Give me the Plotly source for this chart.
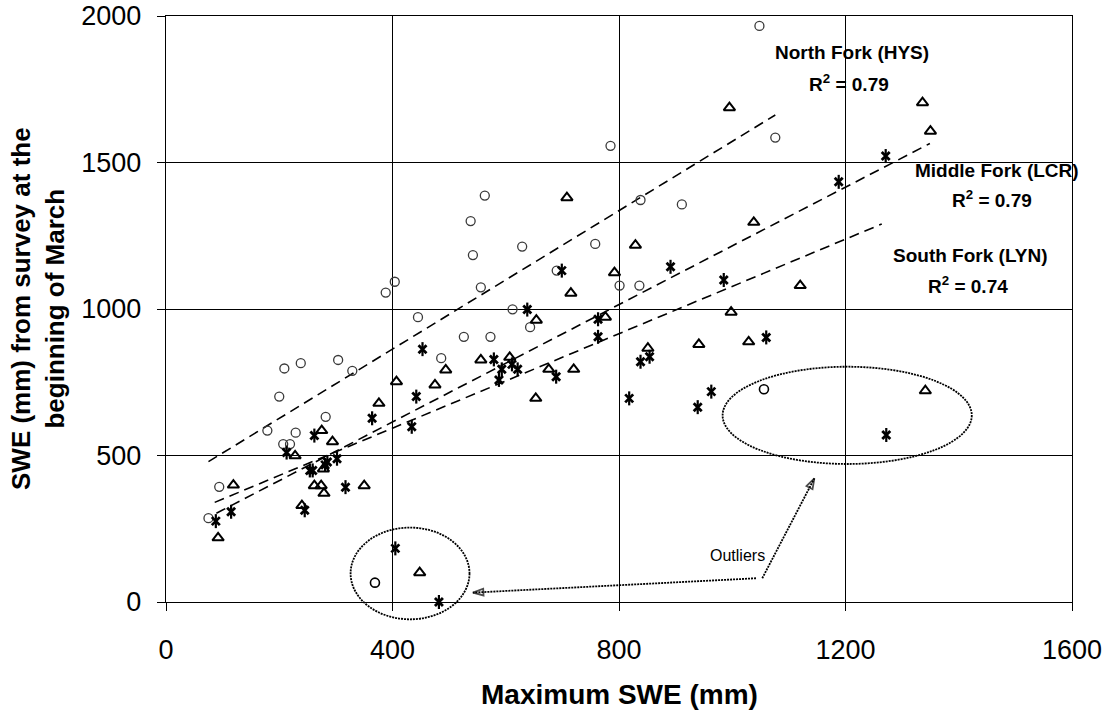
import plotly.graph_objects as go

# ---------------- data ----------------
north_x = [75, 94, 179, 200, 207, 219, 209, 229, 238, 282, 304, 329, 388, 404, 445, 486, 526,
           538, 542, 556, 563, 573, 612, 629, 643, 690, 758, 785, 801, 836, 838, 911, 1048, 1076]
north_y = [286, 393, 585, 701, 539, 539, 797, 578, 815, 632, 826, 789, 1056, 1093, 972, 832, 905,
           1300, 1184, 1074, 1387, 905, 999, 1213, 938, 1131, 1222, 1557, 1080, 1080, 1372, 1357, 1966, 1585]
north_out_x = [369, 1056]
north_out_y = [66, 726]

middle_x = [92, 119, 228, 240, 262, 274, 279, 275, 278, 294, 350, 376, 407, 475, 494, 556, 607, 653,
            654, 676, 708, 715, 720, 776, 792, 829, 851, 941, 995, 998, 1029, 1038, 1120, 1336, 1350]
middle_y = [219, 399, 499, 329, 397, 397, 371, 585, 454, 547, 397, 678, 752, 741, 792, 826, 835, 695,
            962, 794, 1380, 1054, 794, 972, 1124, 1218, 866, 879, 1687, 989, 888, 1296, 1080, 1704, 1607]
middle_out_x = [448, 1341]
middle_out_y = [100, 721]

south_x = [88, 115, 213, 245, 254, 259, 262, 281, 285, 302, 317, 364, 434, 442, 453, 579, 588, 593,
           611, 621, 638, 689, 699, 763, 763, 818, 838, 854, 891, 939, 963, 985, 1060, 1188, 1271]
south_y = [276, 308, 510, 313, 449, 449, 568, 468, 478, 489, 392, 627, 598, 701, 863, 828, 758, 794,
           811, 794, 998, 769, 1131, 965, 905, 695, 820, 837, 1144, 665, 718, 1099, 903, 1434, 1522]
south_out_x = [405, 482, 1272]
south_out_y = [183, 0, 570]

# trend line end points
north_trend_x = [75, 1076]
north_trend_y = [479, 1662]
middle_trend_x = [89, 1349]
middle_trend_y = [303, 1565]
south_trend_x = [86, 1264]
south_trend_y = [340, 1290]

# outlier ellipses [x0, x1, y0, y1]
ellipse_low = [326, 536, -59, 254]
ellipse_high = [983, 1423, 471, 803]

# arrows (start -> end)
arrow1_x = [1042, 542]
arrow1_y = [81, 32]
arrow2_x = [1053, 1145]
arrow2_y = [81, 422]

X_RANGE = [0, 1600]
Y_RANGE = [0, 2000]
x_ticks = [0, 400, 800, 1200, 1600]
y_ticks = [0, 500, 1000, 1500, 2000]

FONT = "Liberation Sans, Arial, sans-serif"

fig = go.Figure()

dash_pat = "10px,6px"
for tx, ty in [(north_trend_x, north_trend_y), (middle_trend_x, middle_trend_y), (south_trend_x, south_trend_y)]:
    fig.add_trace(go.Scatter(x=tx, y=ty, mode="lines", line=dict(color="black", width=1.6, dash=dash_pat),
                             hoverinfo="skip", showlegend=False))

# North Fork circles
fig.add_trace(go.Scatter(x=north_x, y=north_y, mode="markers", name="North Fork (HYS)",
                         marker=dict(symbol="circle-open", size=9, color="#3a3a3a", line=dict(width=1.3)),
                         cliponaxis=False, showlegend=False))
fig.add_trace(go.Scatter(x=north_out_x, y=north_out_y, mode="markers",
                         marker=dict(symbol="circle-open", size=9, color="black", line=dict(width=1.6)),
                         cliponaxis=False, showlegend=False))
# Middle Fork triangles
fig.add_trace(go.Scatter(x=middle_x + middle_out_x, y=middle_y + middle_out_y, mode="markers",
                         name="Middle Fork (LCR)",
                         marker=dict(symbol="triangle-up-open", size=10, color="black", line=dict(width=2)),
                         cliponaxis=False, showlegend=False))
# South Fork asterisks (x + vertical bar)
for sym, sz, lw in [("x-thin-open", 8, 2.8), ("line-ns-open", 10, 2.2)]:
    fig.add_trace(go.Scatter(x=south_x + south_out_x, y=south_y + south_out_y, mode="markers",
                             name="South Fork (LYN)",
                             marker=dict(symbol=sym, size=sz, color="black", line=dict(width=lw, color="black")),
                             cliponaxis=False, showlegend=False))

# dotted arrows
for ax_, ay_ in [(arrow1_x, arrow1_y), (arrow2_x, arrow2_y)]:
    fig.add_trace(go.Scatter(x=ax_, y=ay_, mode="lines+markers",
                             line=dict(color="black", width=1.8, dash="2px,1px"),
                             marker=dict(symbol=["circle", "arrow-open"], size=[0, 11], angleref="previous",
                                         color="black", line=dict(width=1.8, color="black")),
                             cliponaxis=False, hoverinfo="skip", showlegend=False))


def dom(v, r):
    return (v - r[0]) / (r[1] - r[0])


for e in (ellipse_low, ellipse_high):
    fig.add_shape(type="circle", xref="x domain", yref="y domain",
                  x0=dom(e[0], X_RANGE), x1=dom(e[1], X_RANGE),
                  y0=dom(e[2], Y_RANGE), y1=dom(e[3], Y_RANGE),
                  line=dict(color="black", width=1.8, dash="2px,1px"))

labels = [
    ("North Fork (HYS)", 1211, 1874),
    ("R<sup>2</sup> = 0.79", 1206, 1771),
    ("Middle Fork (LCR)", 1468, 1474),
    ("R<sup>2</sup> = 0.79", 1458, 1375),
    ("South Fork (LYN)", 1419, 1184),
    ("R<sup>2</sup> = 0.74", 1417, 1082),
]
for t, x, y in labels:
    fig.add_annotation(x=x, y=y, xref="x", yref="y", text="<b>" + t + "</b>", showarrow=False,
                       font=dict(family=FONT, size=19, color="black"), xanchor="center", yanchor="middle")

fig.add_annotation(x=1010, y=160, xref="x", yref="y", text="Outliers", showarrow=False,
                   font=dict(family=FONT, size=16, color="black"), xanchor="center", yanchor="middle")

# axis titles
fig.add_annotation(x=0.5, y=0, xref="paper", yref="paper", yshift=-92, text="<b>Maximum SWE (mm)</b>",
                   showarrow=False, font=dict(family=FONT, size=28, color="black"),
                   xanchor="center", yanchor="middle")
fig.add_annotation(x=0, y=0.5, xref="paper", yref="paper", xshift=-128,
                   text="<b>SWE (mm) from survey at the<br>beginning of March</b>", textangle=-90,
                   showarrow=False, font=dict(family=FONT, size=26, color="black"),
                   xanchor="center", yanchor="middle")

axis_common = dict(showgrid=True, gridcolor="black", gridwidth=1.2, showline=True, linecolor="black",
                   linewidth=1.4, mirror=True, ticks="outside", ticklen=8, tickcolor="black", tickwidth=1.2,
                   zeroline=False, automargin=False, tickfont=dict(family=FONT, size=27, color="black"))

fig.update_xaxes(range=X_RANGE, tickvals=x_ticks, ticktext=[str(v) for v in x_ticks],
                 ticklabelstandoff=15, **axis_common)
fig.update_yaxes(range=Y_RANGE, tickvals=y_ticks, ticktext=[str(v) for v in y_ticks],
                 ticklabelstandoff=10, **axis_common)

fig.update_layout(width=1111, height=713, margin=dict(l=166, r=39, t=16, b=111, autoexpand=False),
                  plot_bgcolor="white", paper_bgcolor="white", showlegend=False,
                  font=dict(family=FONT, color="black"))

fig.write_html("out.html")
